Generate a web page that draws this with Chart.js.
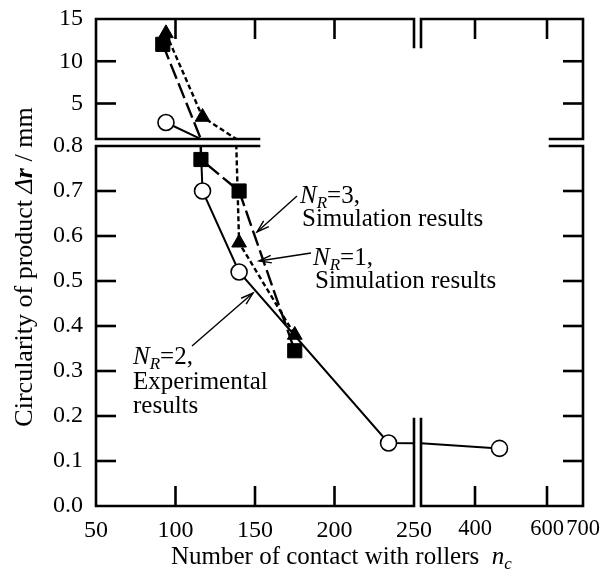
<!DOCTYPE html>
<html>
<head>
<meta charset="utf-8">
<script src="https://cdn.jsdelivr.net/npm/chart.js@4/dist/chart.umd.min.js"></script>
<style>
  html, body { margin: 0; padding: 0; background: #fff; }
  #wrap { width: 614px; height: 573px; }
</style>
</head>
<body>
<div id="wrap"><canvas id="grafico" width="614" height="573"></canvas></div>
<script>
// values
const nr2X = [94, 117, 140, 234, 468];        // N_R=2, experimental (open circles)
const nr2Y = [2.75, 0.70, 0.52, 0.14, 0.128];
const nr1X = [94, 117, 140, 175];             // N_R=1, simulation (triangles)
const nr1Y = [13.3, 3.4, 0.585, 0.38];
const nr3X = [92, 116, 140, 175];             // N_R=3, simulation (squares)
const nr3Y = [12.0, 0.77, 0.70, 0.345];

// broken axes: two x parts, two y parts
const xLeftRange = [50, 250];
const xRightRange = [250, 700];
const yUpperRange = [0.8, 15];
const yLowerRange = [0, 0.8];
const xLeftTicks = [50, 100, 150, 200, 250];
const xRightTicks = [400, 600, 700];
const yUpperTicks = [5, 10, 15];
const yLowerTicks = [0, 0.1, 0.2, 0.3, 0.4, 0.5, 0.6, 0.7, 0.8];

// frame (pixels)
const box = { left: 96, brk1: 414, brk2: 421, right: 583, top: 19, mid1: 139, mid2: 146, bottom: 506 };
const FONT = "'Liberation Serif', 'Times New Roman', serif";
const FS = 25;

const ranges = { xl: xLeftRange, xr: xRightRange, yu: yUpperRange, yl: yLowerRange };

function eixo(pos, range, ticks, fmt, size) {
  return {
    type: 'linear', position: pos, min: range[0], max: range[1],
    grid: { display: false, drawTicks: false },
    border: { display: false },
    afterBuildTicks: s => { s.ticks = ticks.map(v => ({ value: v })); },
    ticks: {
      autoSkip: false, maxRotation: 0, color: '#000',
      padding: pos === 'left' ? 13 : 10,
      font: { family: FONT, size: size || 24 },
      callback: fmt
    }
  };
}

const estilos = {
  nr2: { pointStyle: 'circle', r: 8, bg: '#fff', bw: 1.6, dash: [], w: 2 },
  nr3: { pointStyle: 'rect', r: 10, bg: '#000', bw: 1, dash: [16, 5], w: 2.4 },
  nr1: { pointStyle: 'triangle', r: 8.5, bg: '#000', bw: 1, dash: [5, 3], w: 2.4 }
};

function parte(label, xs, ys, st, xId, yId) {
  const [x0, x1] = ranges[xId];
  const [y0, y1] = ranges[yId];
  return {
    label: label,
    xAxisID: xId,
    yAxisID: yId,
    data: xs.map((x, i) => ({ x: x, y: ys[i] })),
    borderColor: '#000',
    borderWidth: st.w,
    borderDash: st.dash,
    pointStyle: st.pointStyle,
    pointRadius: xs.map((x, i) => (x >= x0 && x <= x1 && ys[i] >= y0 && ys[i] <= y1) ? st.r : 0),
    pointBackgroundColor: st.bg,
    pointBorderColor: '#000',
    pointBorderWidth: st.bw,
    tension: 0,
    fill: false,
    clip: false
  };
}

// first dataset is drawn on top
const datasets = [
  parte('NR=2', nr2X, nr2Y, estilos.nr2, 'xl', 'yu'),
  parte('NR=2', nr2X, nr2Y, estilos.nr2, 'xl', 'yl'),
  parte('NR=2', nr2X, nr2Y, estilos.nr2, 'xr', 'yl'),
  parte('NR=3', nr3X, nr3Y, estilos.nr3, 'xl', 'yu'),
  parte('NR=3', nr3X, nr3Y, estilos.nr3, 'xl', 'yl'),
  parte('NR=1', nr1X, nr1Y, estilos.nr1, 'xl', 'yu'),
  parte('NR=1', nr1X, nr1Y, estilos.nr1, 'xl', 'yl')
];

function colocar(s, l, t, r, b) {
  s.left = l; s.top = t; s.right = r; s.bottom = b;
  s.width = r - l; s.height = b - t;
  s.configure();
}

function linha(ctx, pts) {
  ctx.beginPath();
  ctx.moveTo(pts[0][0], pts[0][1]);
  for (let i = 1; i < pts.length; i++) ctx.lineTo(pts[i][0], pts[i][1]);
  ctx.stroke();
}

// draws a list of text runs one after another, returns the width
function texto(ctx, x, y, runs, medir) {
  let w = 0;
  runs.forEach(r => {
    ctx.font = r.f;
    if (!medir) ctx.fillText(r.t, x + w, y + (r.dy || 0));
    w += ctx.measureText(r.t).width;
  });
  return w;
}

function seta(ctx, x1, y1, x2, y2) {
  const a = Math.atan2(y2 - y1, x2 - x1);
  const L = 13, ab = 0.3;
  ctx.lineWidth = 1.4;
  linha(ctx, [[x1, y1], [x2, y2]]);
  linha(ctx, [[x2 - L * Math.cos(a - ab), y2 - L * Math.sin(a - ab)], [x2, y2],
              [x2 - L * Math.cos(a + ab), y2 - L * Math.sin(a + ab)]]);
}

const reg = `${FS}px ${FONT}`;
const ita = `italic ${FS}px ${FONT}`;
const sub = `italic 17px ${FONT}`;

function nr(n) {
  return [{ t: 'N', f: ita }, { t: 'R', f: sub, dy: 5 }, { t: '=' + n + ',', f: reg }];
}

const eixosQuebrados = {
  id: 'eixosQuebrados',
  afterLayout(chart) {
    const s = chart.scales;
    colocar(s.xl, box.left, box.bottom, box.brk1, chart.height);
    colocar(s.xr, box.brk2, box.bottom, box.right, chart.height);
    colocar(s.yu, 0, box.top, box.left, box.mid1);
    colocar(s.yl, 0, box.mid2, box.left, box.bottom);
    chart.chartArea = { left: box.left, top: box.top, right: box.right, bottom: box.bottom,
                        width: box.right - box.left, height: box.bottom - box.top };
  },
  beforeDatasetDraw(chart, args) {
    const m = args.meta;
    const ctx = chart.ctx;
    ctx.save();
    ctx.beginPath();
    ctx.rect(m.xScale.left, m.yScale.top, m.xScale.right - m.xScale.left, m.yScale.bottom - m.yScale.top);
    ctx.clip();
  },
  afterDatasetDraw(chart) {
    chart.ctx.restore();
  },
  afterDraw(chart) {
    const ctx = chart.ctx;
    const s = chart.scales;
    const b = box;
    ctx.save();
    ctx.strokeStyle = '#000';
    ctx.fillStyle = '#000';
    ctx.lineCap = 'square';
    ctx.lineJoin = 'miter';
    ctx.lineWidth = 2.6;

    // frame pieces
    linha(ctx, [[b.brk1, b.top + 28], [b.brk1, b.top], [b.left, b.top], [b.left, b.mid1], [259, b.mid1]]);
    linha(ctx, [[b.brk2, b.top + 28], [b.brk2, b.top], [b.right, b.top], [b.right, b.mid1], [550, b.mid1]]);
    linha(ctx, [[259, b.mid2], [b.left, b.mid2], [b.left, b.bottom], [b.brk1, b.bottom], [b.brk1, 419]]);
    linha(ctx, [[550, b.mid2], [b.right, b.mid2], [b.right, b.bottom], [b.brk2, b.bottom], [b.brk2, 419]]);

    // inward tick marks
    ctx.lineCap = 'butt';
    const T = 20;
    [[s.yu, yUpperTicks], [s.yl, yLowerTicks]].forEach(([sc, tk]) => {
      tk.forEach(v => {
        if (v === sc.min || v === sc.max) return;
        const y = sc.getPixelForValue(v);
        linha(ctx, [[b.left, y], [b.left + T, y]]);
        linha(ctx, [[b.right, y], [b.right - T, y]]);
      });
    });
    [[s.xl, xLeftTicks], [s.xr, xRightTicks]].forEach(([sc, tk]) => {
      tk.forEach(v => {
        if (v === sc.min || v === sc.max) return;
        const x = sc.getPixelForValue(v);
        linha(ctx, [[x, b.bottom], [x, b.bottom - T]]);
        linha(ctx, [[x, b.top], [x, b.top + T]]);
      });
    });

    // axis titles
    ctx.textBaseline = 'alphabetic';
    ctx.textAlign = 'left';
    texto(ctx, 171, 564, [{ t: 'Number of contact with rollers  ', f: reg }, { t: 'n', f: ita },
                          { t: 'c', f: sub, dy: 5 }]);

    const yt = [{ t: 'Circularity of product ', f: `26px ${FONT}` }, { t: '\u0394', f: `italic 26px ${FONT}` },
                { t: 'r', f: `bold italic 26px ${FONT}` }, { t: ' / mm', f: `26px ${FONT}` }];
    const wy = texto(ctx, 0, 0, yt, true);
    ctx.save();
    ctx.translate(32, 267);
    ctx.rotate(-Math.PI / 2);
    texto(ctx, -wy / 2, 0, yt);
    ctx.restore();

    // notes and arrows
    texto(ctx, 300, 203, nr(3));
    texto(ctx, 302, 226, [{ t: 'Simulation results', f: reg }]);
    texto(ctx, 313, 265, nr(1));
    texto(ctx, 315, 288, [{ t: 'Simulation results', f: reg }]);
    texto(ctx, 133, 364, nr(2));
    texto(ctx, 133, 389, [{ t: 'Experimental', f: reg }]);
    texto(ctx, 133, 413, [{ t: 'results', f: reg }]);

    seta(ctx, 297, 196, 257, 232);
    seta(ctx, 311, 253, 259, 261);
    seta(ctx, 192, 346, 253, 293);
    ctx.restore();
  }
};

new Chart(document.getElementById('grafico'), {
  type: 'line',
  data: { datasets: datasets },
  options: {
    responsive: false,
    animation: false,
    events: [],
    plugins: { legend: { display: false }, tooltip: { enabled: false } },
    scales: {
      xl: eixo('bottom', xLeftRange, xLeftTicks, v => String(v)),
      xr: eixo('bottom', xRightRange, xRightTicks, v => String(v), 22.5),
      yu: eixo('left', yUpperRange, yUpperTicks, v => String(v)),
      yl: eixo('left', yLowerRange, yLowerTicks, v => v.toFixed(1))
    }
  },
  plugins: [eixosQuebrados]
});
</script>
</body>
</html>
